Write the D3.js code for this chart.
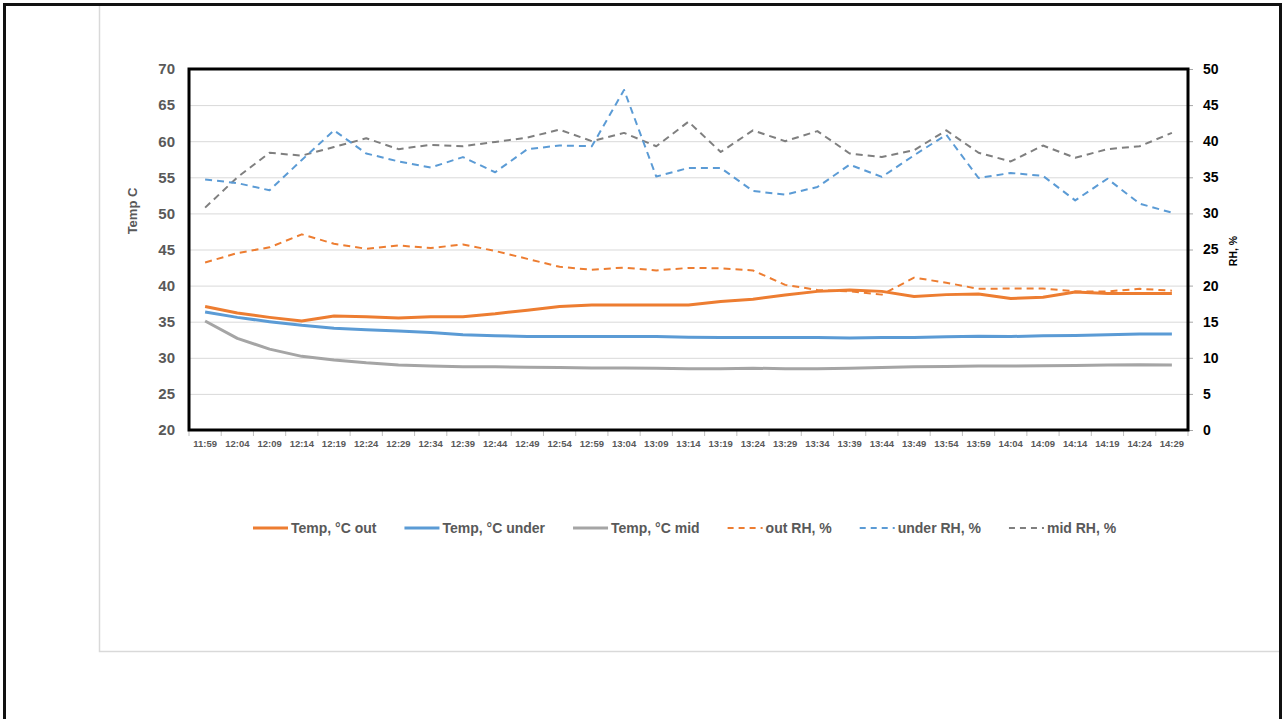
<!DOCTYPE html>
<html>
<head>
<meta charset="utf-8">
<script src="https://cdn.jsdelivr.net/npm/d3@7"></script>
<style>
  body { margin: 0; background: #fff; }
  svg { display: block; font-family: "Liberation Sans", Arial, sans-serif; }
  .axis path { display: none; }
  .grid line { stroke: #d9d9d9; stroke-width: 1; }
</style>
</head>
<body>
<div id="chart"></div>
<script>
// categories (time stamps)
var times = ["11:59","12:04","12:09","12:14","12:19","12:24","12:29","12:34","12:39","12:44",
  "12:49","12:54","12:59","13:04","13:09","13:14","13:19","13:24","13:29","13:34",
  "13:39","13:44","13:49","13:54","13:59","14:04","14:09","14:14","14:19","14:24","14:29"];

// temperatures, left axis
var tempOut = [37.1,36.2,35.6,35.1,35.8,35.7,35.5,35.7,35.7,36.1,36.6,37.1,37.3,37.3,37.3,37.3,
  37.8,38.1,38.7,39.2,39.4,39.2,38.5,38.75,38.85,38.2,38.4,39.1,38.9,38.9,38.9];
var tempUnder = [36.35,35.6,35.0,34.5,34.1,33.9,33.7,33.5,33.2,33.05,32.95,32.95,32.95,32.95,32.95,32.85,
  32.8,32.8,32.8,32.8,32.75,32.8,32.8,32.9,33.0,32.95,33.05,33.1,33.2,33.3,33.3];
var tempMid = [35.1,32.7,31.2,30.2,29.7,29.3,29.0,28.85,28.75,28.75,28.7,28.65,28.6,28.6,28.55,28.5,
  28.5,28.55,28.5,28.5,28.55,28.65,28.75,28.8,28.85,28.85,28.9,28.95,29.0,29.05,29.0];

// relative humidity, right axis
var rhOut = [23.2,24.5,25.3,27.1,25.8,25.1,25.55,25.2,25.7,24.8,23.7,22.6,22.2,22.5,22.1,22.45,
  22.4,22.1,20.1,19.4,19.2,18.75,21.1,20.4,19.55,19.6,19.6,19.2,19.2,19.55,19.3];
var rhUnder = [34.7,34.2,33.2,37.4,41.5,38.3,37.2,36.35,37.8,35.7,38.9,39.4,39.3,47.1,35.1,36.3,
  36.3,33.1,32.6,33.65,36.75,35.05,38.05,40.9,34.9,35.6,35.2,31.8,34.8,31.35,30.1];
var rhMid = [30.8,35.0,38.4,38.0,39.2,40.4,38.9,39.5,39.3,39.9,40.5,41.6,40.0,41.15,39.3,42.7,
  38.5,41.5,40.0,41.4,38.3,37.8,38.75,41.5,38.4,37.2,39.4,37.7,38.9,39.3,41.15];

var tempTicks = [20,25,30,35,40,45,50,55,60,65,70];
var rhTicks = [0,5,10,15,20,25,30,35,40,45,50];

var series = [
  { name: "Temp, °C out",   values: tempOut,   color: "#ED7D31", dash: null, axis: "left" },
  { name: "Temp, °C under", values: tempUnder, color: "#5B9BD5", dash: null, axis: "left" },
  { name: "Temp, °C mid",   values: tempMid,   color: "#A5A5A5", dash: null, axis: "left" },
  { name: "out RH, %",      values: rhOut,     color: "#ED7D31", dash: "7,5", axis: "right" },
  { name: "under RH, %",    values: rhUnder,   color: "#5B9BD5", dash: "7,5", axis: "right" },
  { name: "mid RH, %",      values: rhMid,     color: "#7F7F7F", dash: "7,5", axis: "right" }
];

var W = 1283, H = 719;
var plot = { left: 189, top: 69, right: 1188, bottom: 430 };
var width = plot.right - plot.left, height = plot.bottom - plot.top;

var svg = d3.select("#chart").append("svg")
  .attr("width", W).attr("height", H);

// outer frame + thin grey panel edge
svg.append("path")
  .attr("d", "M4.5,725 V4.5 H1280.5 V725")
  .attr("fill", "none").attr("stroke", "#111").attr("stroke-width", 3);
svg.append("path")
  .attr("d", "M99.5,6 V651.5 H1279")
  .attr("fill", "none").attr("stroke", "#d9d9d9").attr("stroke-width", 1.5);

var g = svg.append("g").attr("transform", "translate(" + plot.left + "," + plot.top + ")");

var x = d3.scaleBand().domain(times).range([0, width]);
var yT = d3.scaleLinear().domain([20, 70]).range([height, 0]);
var yR = d3.scaleLinear().domain([0, 50]).range([height, 0]);

// gridlines
g.append("g").attr("class", "grid")
  .call(d3.axisLeft(yT).tickValues(tempTicks).tickSize(-width).tickFormat(""))
  .call(function(s) { s.select(".domain").remove(); });

// left axis labels
g.append("g").attr("class", "axis")
  .call(d3.axisLeft(yT).tickValues(tempTicks).tickSize(0).tickPadding(14))
  .selectAll("text")
  .style("font-size", "15px").style("font-weight", "bold").attr("fill", "#595959");

// right axis
var ra = g.append("g").attr("class", "axis")
  .attr("transform", "translate(" + width + ",0)")
  .call(d3.axisRight(yR).tickValues(rhTicks).tickSize(5).tickPadding(10));
ra.selectAll("line").attr("stroke", "#a6a6a6");
ra.selectAll("text")
  .style("font-size", "14px").style("font-weight", "bold").attr("fill", "#000");

// bottom axis labels at category centres
g.append("g").attr("class", "axis")
  .attr("transform", "translate(0," + height + ")")
  .call(d3.axisBottom(x).tickSize(0).tickPadding(10))
  .selectAll("text")
  .style("font-size", "9.5px").style("font-weight", "bold").attr("fill", "#595959");

// tick marks between categories
g.append("g").selectAll("line")
  .data(times.concat([null]))
  .enter().append("line")
  .attr("x1", function(d) { return d === null ? width : x(d); })
  .attr("x2", function(d) { return d === null ? width : x(d); })
  .attr("y1", height).attr("y2", height + 6)
  .attr("stroke", "#bfbfbf");

// lines
var cx = function(i) { return x(times[i]) + x.bandwidth() / 2; };

series.slice().reverse().forEach(function(s) {
  var yy = s.axis === "left" ? yT : yR;
  var line = d3.line()
    .x(function(d, i) { return cx(i); })
    .y(function(d) { return yy(d); });
  g.append("path")
    .datum(s.values)
    .attr("d", line)
    .attr("fill", "none")
    .attr("stroke", s.color)
    .attr("stroke-width", s.dash ? 2 : 3)
    .attr("stroke-dasharray", s.dash)
    .attr("stroke-linejoin", "round");
});

// plot frame
g.append("rect")
  .attr("x", 0).attr("y", 0).attr("width", width).attr("height", height)
  .attr("fill", "none").attr("stroke", "#000").attr("stroke-width", 3);

// axis titles
svg.append("text")
  .attr("transform", "translate(137,211) rotate(-90)")
  .attr("text-anchor", "middle")
  .style("font-size", "13px").style("font-weight", "bold").attr("fill", "#595959")
  .text("Temp C");

svg.append("text")
  .attr("transform", "translate(1237,251) rotate(-90)")
  .attr("text-anchor", "middle")
  .style("font-size", "10.5px").style("font-weight", "bold").attr("fill", "#000")
  .text("RH, %");

// legend
var lg = svg.append("g").attr("transform", "translate(253,528)");
var lx = 0;
series.forEach(function(s) {
  var item = lg.append("g").attr("transform", "translate(" + lx + ",0)");
  item.append("line")
    .attr("x1", 0).attr("x2", 35).attr("y1", 0).attr("y2", 0)
    .attr("stroke", s.color)
    .attr("stroke-width", s.dash ? 2 : 3)
    .attr("stroke-dasharray", s.dash ? "6,5" : null);
  var t = item.append("text")
    .attr("x", 38).attr("y", 5)
    .style("font-size", "14px").style("font-weight", "bold").attr("fill", "#595959")
    .text(s.name);
  lx += 38 + t.node().getComputedTextLength() + 28;
});
</script>
</body>
</html>
